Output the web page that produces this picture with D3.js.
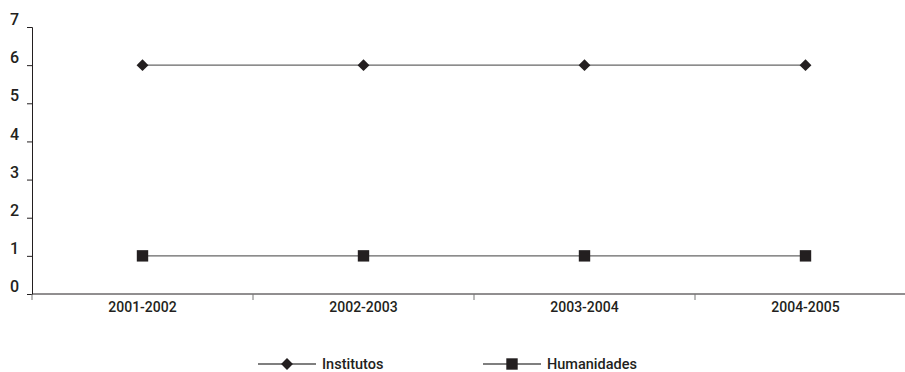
<!DOCTYPE html>
<html>
<head>
<meta charset="utf-8">
<script src="https://cdn.jsdelivr.net/npm/d3@7"></script>
<style>
  body { margin: 0; background: #fff; }
  text { font-family: Roboto, sans-serif; font-weight: 500; fill: #231f20; }
</style>
</head>
<body>
<svg id="chart" width="905" height="372"></svg>
<script>
var years = ["2001-2002", "2002-2003", "2003-2004", "2004-2005"];
var institutos = [6, 6, 6, 6];
var humanidades = [1, 1, 1, 1];
var y_ticks = [0, 1, 2, 3, 4, 5, 6, 7];

var svg = d3.select("#chart");
var border_left = 32, border_top = 27, plot_bottom = 294, band = 221;

var x = d3.scaleBand().domain(years).range([border_left, border_left + band * years.length]);
var y = d3.scaleLinear().domain([0, 7]).range([plot_bottom, border_top]);

// y axis
var yAxis = svg.append("g").attr("transform", "translate(" + border_left + ",0)")
    .call(d3.axisLeft(y).tickValues(y_ticks).tickFormat(d3.format("d")).tickSize(5).tickPadding(8));
yAxis.select(".domain").attr("stroke", "#231f20");
yAxis.selectAll(".tick line").attr("stroke", "#231f20");
yAxis.selectAll("text").attr("font-size", 16).attr("dy", "-0.15em")
    .attr("font-family", "Roboto, sans-serif").attr("font-weight", "500");

// x axis: ticks at band boundaries
var xAxis = svg.append("g").attr("transform", "translate(0," + plot_bottom + ")");
xAxis.append("line").attr("x1", border_left).attr("x2", 905).attr("stroke", "#231f20");
xAxis.selectAll(".xt").data(years).enter().append("line")
    .attr("x1", function(d) { return x(d); }).attr("x2", function(d) { return x(d); })
    .attr("y1", 0).attr("y2", 6).attr("stroke", "#777");
xAxis.selectAll(".xl").data(years).enter().append("text")
    .attr("x", function(d) { return x(d) + x.bandwidth() / 2; })
    .attr("y", 18).attr("text-anchor", "middle").attr("font-size", 14)
    .text(function(d) { return d; });

var line = d3.line()
    .x(function(d, i) { return x(years[i]) + x.bandwidth() / 2; })
    .y(function(d) { return y(d); });

var diamond = d3.symbol().type(d3.symbolDiamond2).size(90);
var square = d3.symbol().type(d3.symbolSquare).size(130);

function drawSeries(values, sym) {
    svg.append("path").datum(values).attr("d", line)
        .attr("fill", "none").attr("stroke", "#666").attr("stroke-width", 1.3);
    svg.selectAll(null).data(values).enter().append("path")
        .attr("d", sym)
        .attr("transform", function(d, i) {
            return "translate(" + (x(years[i]) + x.bandwidth() / 2) + "," + y(d) + ")";
        })
        .attr("fill", "#231f20");
}
drawSeries(institutos, diamond);
drawSeries(humanidades, square);

// legend
var legend = [
    { name: "Institutos", sym: diamond, x: 258 },
    { name: "Humanidades", sym: square, x: 483 }
];
var lg = svg.selectAll(".legend").data(legend).enter().append("g")
    .attr("transform", function(d) { return "translate(" + d.x + ",364)"; });
lg.append("line").attr("x1", 0).attr("x2", 58).attr("stroke", "#555").attr("stroke-width", 1.3);
lg.append("path").attr("d", function(d) { return d.sym(); })
    .attr("transform", "translate(29,0)").attr("fill", "#231f20");
lg.append("text").attr("x", 64).attr("y", 5).attr("font-size", 14.5)
    .text(function(d) { return d.name; });
</script>
</body>
</html>
